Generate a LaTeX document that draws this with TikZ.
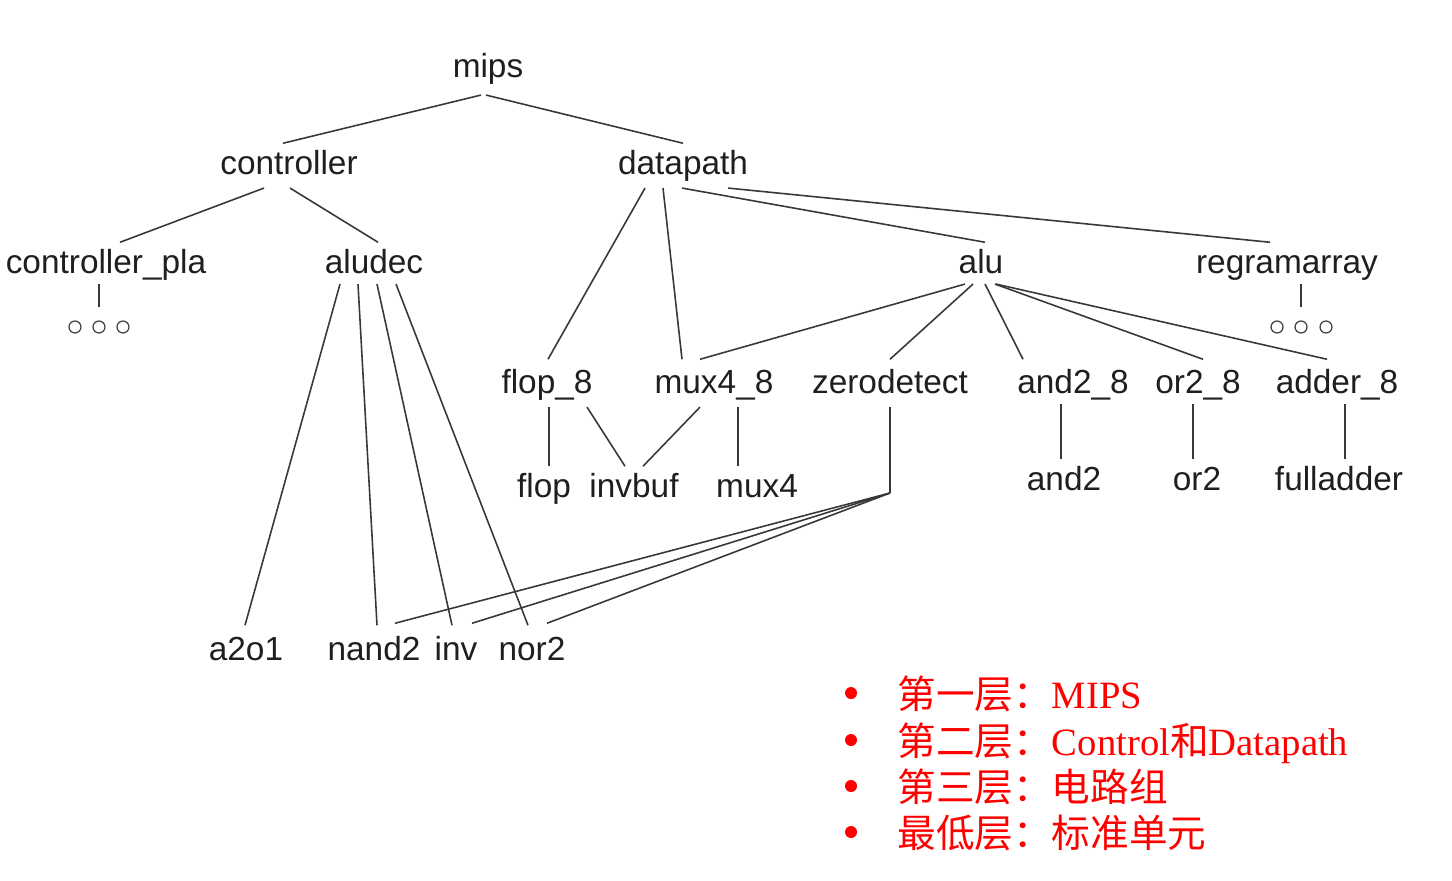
\documentclass[tikz,border=0pt]{standalone}
\usepackage{fontspec}
\setmainfont{Liberation Sans}
\newfontfamily\cjk{Noto Sans CJK SC}
\newfontfamily\legendrm{Liberation Serif}
\usetikzlibrary{calc}
\tikzset{
  module/.style={anchor=base, inner sep=0pt, outer ysep=4pt, text height=13.5pt, text depth=4pt,
    font=\fontsize{19}{19}\selectfont, text=black!88},
  edge/.style={line width=0.9pt, draw=black!78},
  dot/.style={circle, draw=black!75, line width=0.7pt, inner sep=0pt, minimum size=0.24cm},
  bullet/.style={circle, fill=red, inner sep=0pt, minimum size=0.24cm},
  layer/.style={anchor=base west, inner sep=0pt, text=red, font=\fontsize{22}{22}\selectfont}
}

\begin{document}
\begin{tikzpicture}[x=0.02cm, y=-0.02cm]
    \useasboundingbox (0,0) rectangle (1452,880);

    % top levels
    \node[module] (mips)       at (488,77)  {mips};
    \node[module] (controller) at (289,174) {controller};
    \node[module] (datapath)   at (683,174) {datapath};
    \node[module] (ctrlpla)    at (106,273) {controller\_pla};
    \node[module] (aludec)     at (374,273) {aludec};
    \node[module] (alu)        at (981,273) {alu};
    \node[module] (regarray)   at (1287,273) {regramarray};

    \node[dot] (pla1) at (75,327) {};
    \node[dot] (pla2) at (99,327) {};
    \node[dot] (pla3) at (123,327) {};
    \node[dot] (ram1) at (1277,327) {};
    \node[dot] (ram2) at (1301,327) {};
    \node[dot] (ram3) at (1326,327) {};

    % circuit blocks
    \node[module] (flop8)      at (547,393) {flop\_8};
    \node[module] (mux48)      at (714,393) {mux4\_8};
    \node[module] (zerodetect) at (890,393) {zerodetect};
    \node[module] (and28)      at (1073,393) {and2\_8};
    \node[module] (or28)       at (1198,393) {or2\_8};
    \node[module] (adder8)     at (1337,393) {adder\_8};

    \node[module] (flop)       at (544,497) {flop};
    \node[module] (invbuf)     at (634,497) {invbuf};
    \node[module] (mux4)       at (757,497) {mux4};
    \node[module] (and2)       at (1064,490) {and2};
    \node[module] (or2)        at (1197,490) {or2};
    \node[module] (fulladder)  at (1339,490) {fulladder};

    % standard cells
    \node[module] (a2o1)       at (246,660) {a2o1};
    \node[module] (nand2)      at (374,660) {nand2};
    \node[module] (inv)        at (456,660) {inv};
    \node[module] (nor2)       at (532,660) {nor2};
    \coordinate (zdjoin) at (890,493);

    \draw[edge] ($(mips.south)+(-7,4)$) -- ($(controller.north)+(-6,0)$);
    \draw[edge] ($(mips.south)+(-2,4)$) -- (datapath.north);
    \draw[edge] ($(controller.south)+(-25,0)$) -- ($(ctrlpla.north)+(14,0)$);
    \draw[edge] ($(controller.south)+(1,0)$) -- ($(aludec.north)+(4,0)$);
    \draw[edge] ($(ctrlpla.south)+(-7,-3)$) -- ($(pla2.north)+(0,-13)$);

    \draw[edge] ($(datapath.south)+(-38,0)$) -- ($(flop8.north)+(1,-3)$);
    \draw[edge] ($(datapath.south)+(-20,0)$) -- ($(mux48.north)+(-32,-3)$);
    \draw[edge] ($(datapath.south)+(-1,0)$) -- ($(alu.north)+(4,0)$);
    \draw[edge] ($(datapath.south)+(45,0)$) -- ($(regarray.north)+(-17,0)$);
    \draw[edge] ($(regarray.south)+(14,-3)$) -- ($(ram2.north)+(0,-13)$);

    \draw[edge] ($(alu.south)+(-16,-3)$) -- ($(mux48.north)+(-14,-3)$);
    \draw[edge] ($(alu.south)+(-8,-3)$) -- ($(zerodetect.north)+(0,-3)$);
    \draw[edge] ($(alu.south)+(4,-3)$) -- ($(and28.north)+(-50,-3)$);
    \draw[edge] ($(alu.south)+(14,-3)$) -- ($(or28.north)+(5,-3)$);
    \draw[edge] ($(alu.south)+(15,-3)$) -- ($(adder8.north)+(-10,-3)$);

    \draw[edge] ($(aludec.south)+(-34,-3)$) -- ($(a2o1.north)+(-1,-4)$);
    \draw[edge] ($(aludec.south)+(-16,-3)$) -- ($(nand2.north)+(3,-4)$);
    \draw[edge] ($(aludec.south)+(3,-3)$) -- ($(inv.north)+(-4,-4)$);
    \draw[edge] ($(aludec.south)+(22,-3)$) -- ($(nor2.north)+(-4,-4)$);

    \draw[edge] ($(flop8.south)+(2,0)$) -- ($(flop.north)+(5,0)$);
    \draw[edge] ($(flop8.south)+(40,0)$) -- ($(invbuf.north)+(-9,0)$);
    \draw[edge] ($(mux48.south)+(-14,0)$) -- ($(invbuf.north)+(9,0)$);
    \draw[edge] ($(mux48.south)+(24,0)$) -- ($(mux4.north)+(-19,0)$);

    \draw[edge] (zerodetect.south) -- (zdjoin);
    \draw[edge] (zdjoin) -- ($(nand2.north)+(21,-6)$);
    \draw[edge] (zdjoin) -- ($(inv.north)+(16,-6)$);
    \draw[edge] (zdjoin) -- ($(nor2.north)+(15,-6)$);

    \draw[edge] ($(and28.south)+(-12,-3)$) -- ($(and2.north)+(-3,0)$);
    \draw[edge] ($(or28.south)+(-5,-3)$) -- ($(or2.north)+(-4,0)$);
    \draw[edge] ($(adder8.south)+(8,-3)$) -- ($(fulladder.north)+(6,0)$);

    % legend
    \node[bullet] (b1) at (851,693) {};
    \node[bullet] (b2) at (851,740) {};
    \node[bullet] (b3) at (851,786) {};
    \node[bullet] (b4) at (851,832) {};
    \node[layer] (l1) at (897,708) {{\cjk 第一层：}{\legendrm MIPS}};
    \node[layer] (l2) at (897,755) {{\cjk 第二层：}{\legendrm Control}{\cjk 和}{\legendrm Datapath}};
    \node[layer] (l3) at (897,801) {{\cjk 第三层：电路组}};
    \node[layer] (l4) at (897,847) {{\cjk 最低层：标准单元}};
\end{tikzpicture}
\end{document}
